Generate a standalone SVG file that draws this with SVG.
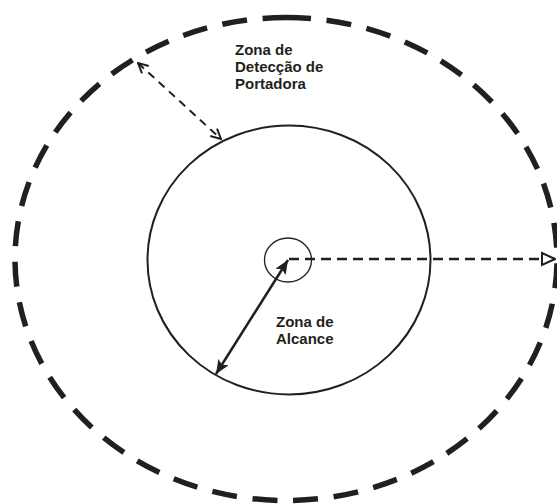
<svg xmlns="http://www.w3.org/2000/svg" width="557" height="504" viewBox="0 0 557 504">
<defs>
<style>
.lbl{font-family:"Liberation Sans",Arial,sans-serif;font-weight:bold;font-size:15px;fill:#231f20}
</style>
<marker id="filled" viewBox="0 0 14 12" refX="14" refY="6" markerWidth="14" markerHeight="12" markerUnits="userSpaceOnUse" orient="auto-start-reverse">
<path d="M0,0 L14,6 L0,12 L3,6 Z" fill="#231f20"/>
</marker>
<marker id="vee" viewBox="0 0 12 12" refX="11" refY="6" markerWidth="12" markerHeight="12" markerUnits="userSpaceOnUse" orient="auto-start-reverse">
<path d="M1,1 L11,6 L1,11" fill="none" stroke="#231f20" stroke-width="2"/>
</marker>
<marker id="tri" viewBox="0 0 16 16" refX="15" refY="8" markerWidth="16" markerHeight="16" markerUnits="userSpaceOnUse" orient="auto">
<path d="M2,2 L15,8 L2,14 Z" fill="#fff" stroke="#231f20" stroke-width="2"/>
</marker>
</defs>
<rect width="557" height="504" fill="#fff"/>
<g id="outer-zone">
<path d="M286,17.5 A271,241.5 0 0 1 286,500.5 A271,241.5 0 0 1 286,17.5 Z" fill="none" stroke="#231f20" stroke-width="5.5" stroke-dasharray="25 15.7"/>
</g>
<g id="inner-zone">
<ellipse cx="289" cy="260" rx="141.5" ry="134.5" fill="none" stroke="#231f20" stroke-width="2"/>
</g>
<g id="center">
<ellipse cx="288" cy="260" rx="23.5" ry="22" fill="none" stroke="#231f20" stroke-width="1.3"/>
</g>
<g id="connectors">
<line x1="289" y1="259" x2="555" y2="259" stroke="#231f20" stroke-width="2.5" stroke-dasharray="10 6" marker-end="url(#tri)"/>
<line x1="288" y1="260" x2="216" y2="374" stroke="#231f20" stroke-width="2.5" marker-start="url(#filled)" marker-end="url(#filled)"/>
<line x1="138" y1="63" x2="221" y2="139" stroke="#231f20" stroke-width="2" stroke-dasharray="8 6" marker-start="url(#vee)" marker-end="url(#vee)"/>
</g>
<g id="label-carrier">
<text class="lbl" x="235" y="55">Zona de</text>
<text class="lbl" x="235" y="72">Detecção de</text>
<text class="lbl" x="235" y="89">Portadora</text>
</g>
<g id="label-range">
<text class="lbl" x="276" y="327">Zona de</text>
<text class="lbl" x="276" y="344">Alcance</text>
</g>
</svg>
